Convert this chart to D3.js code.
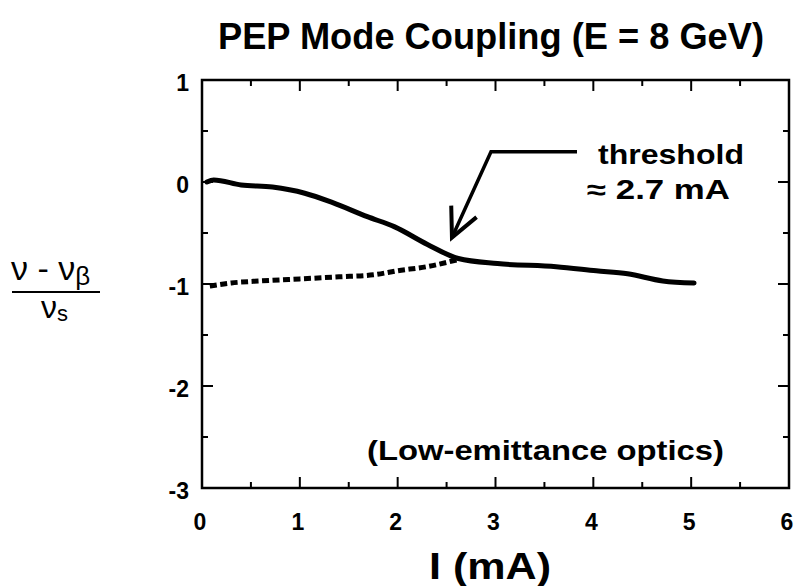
<!DOCTYPE html>
<html><head><meta charset="utf-8">
<script src="https://cdn.jsdelivr.net/npm/d3@7"></script>
<style>body{margin:0;background:#fff}svg{display:block}</style>
</head><body>
<svg id="c" width="794" height="586"></svg>
<script>
// ---- data ----
const solidX = [0.05, 0.12, 0.40, 0.72, 1.05, 1.33, 1.69, 1.97, 2.30, 2.62, 3.02, 3.62, 4.03, 4.35, 4.71, 5.03];
const solidY = [0.00, 0.02, -0.03, -0.05, -0.11, -0.20, -0.34, -0.44, -0.61, -0.75, -0.80, -0.83, -0.87, -0.90, -0.97, -0.99];
const dottedX = [0.08, 0.30, 0.60, 1.00, 1.40, 1.75, 2.00, 2.30, 2.62];
const dottedY = [-1.02, -0.99, -0.97, -0.95, -0.93, -0.91, -0.87, -0.83, -0.76];
const xTicks = [0, 1, 2, 3, 4, 5, 6];
const yTicks = [1, 0, -1, -2, -3];
const titleText = "PEP Mode Coupling (E = 8 GeV)";
const xTitle = "I (mA)";
const noteLines = ["threshold", "≈ 2.7 mA"];
const opticsNote = "(Low-emittance optics)";
const arrowPath = [[3.833, 0.296], [2.954, 0.296], [2.555, -0.545]]; // data units

const svg = d3.select("#c");
const F = "'Liberation Sans', Arial, Helvetica, sans-serif";
const L = 202, R = 789, T = 80, B = 488;
const x = d3.scaleLinear().domain([0, 6]).range([L, R]);
const y = d3.scaleLinear().domain([-3, 1]).range([B, T]);

function fitText(sel, w) {
  sel.attr("textLength", w).attr("lengthAdjust", "spacingAndGlyphs");
}

// title
svg.append("text").attr("x", 491).attr("y", 49).attr("text-anchor", "middle")
  .attr("font-family", F).attr("font-weight", "bold").attr("font-size", 37)
  .text(titleText).call(fitText, 546);

// frame
svg.append("rect").attr("x", L).attr("y", T).attr("width", R - L).attr("height", B - T)
  .attr("fill", "none").attr("stroke", "#000").attr("stroke-width", 2.5);

// ticks
const minorMajorX = d3.range(0.5, 6, 0.5);
const minorMajorY = d3.range(-2.5, 1, 0.5);
const tg = svg.append("g").attr("stroke", "#000").attr("stroke-width", 2);
minorMajorX.forEach(v => {
  const len = Number.isInteger(v) ? 11 : 6;
  tg.append("line").attr("x1", x(v)).attr("x2", x(v)).attr("y1", B).attr("y2", B - len);
  tg.append("line").attr("x1", x(v)).attr("x2", x(v)).attr("y1", T).attr("y2", T + len);
});
minorMajorY.forEach(v => {
  const len = Number.isInteger(v) ? 11 : 6;
  tg.append("line").attr("y1", y(v)).attr("y2", y(v)).attr("x1", L).attr("x2", L + len);
  tg.append("line").attr("y1", y(v)).attr("y2", y(v)).attr("x1", R).attr("x2", R - len);
});

// tick labels
svg.append("g").selectAll("text").data(xTicks).join("text")
  .attr("x", d => x(d) - 2).attr("y", 530).attr("text-anchor", "middle")
  .attr("font-family", F).attr("font-weight", "bold").attr("font-size", 23)
  .text(d => d);
svg.append("g").selectAll("text").data(yTicks).join("text")
  .attr("x", 189).attr("y", d => y(d) + 11).attr("text-anchor", "end")
  .attr("font-family", F).attr("font-weight", "bold").attr("font-size", 23)
  .text(d => d);

// x title
svg.append("text").attr("x", 490).attr("y", 579).attr("text-anchor", "middle")
  .attr("font-family", F).attr("font-weight", "bold").attr("font-size", 37)
  .text(xTitle).call(fitText, 122);

// y title (fraction)
const yt = svg.append("g").attr("font-family", F).attr("font-size", 34);
const num = yt.append("text").attr("x", 11).attr("y", 280);
num.append("tspan").text("ν - ν");
num.append("tspan").attr("font-size", 26).attr("dy", 5).text("β");
yt.append("line").attr("x1", 12).attr("x2", 100).attr("y1", 292).attr("y2", 292)
  .attr("stroke", "#000").attr("stroke-width", 2);
const den = yt.append("text").attr("x", 41).attr("y", 318).attr("font-size", 32);
den.append("tspan").text("ν");
den.append("tspan").attr("font-size", 22).attr("dy", 3).text("s");

// curves
const line = d3.line().x(d => x(d[0])).y(d => y(d[1])).curve(d3.curveMonotoneX);
svg.append("path").datum(dottedX.map((v, i) => [v, dottedY[i]]))
  .attr("d", line).attr("fill", "none").attr("stroke", "#000")
  .attr("stroke-width", 5).attr("stroke-dasharray", "7,3.5");
svg.append("path").datum(solidX.map((v, i) => [v, solidY[i]]))
  .attr("d", line).attr("fill", "none").attr("stroke", "#000")
  .attr("stroke-width", 5).attr("stroke-linejoin", "round").attr("stroke-linecap", "round");

// arrow
const ap = arrowPath.map(p => [x(p[0]), y(p[1])]);
svg.append("path").attr("d", d3.line()(ap)).attr("fill", "none").attr("stroke", "#000")
  .attr("stroke-width", 3.5);
const tip = ap[2], prev = ap[1];
const ang = Math.atan2(tip[1] - prev[1], tip[0] - prev[0]);
const hl = 32, ha = 0.45;
const b1 = [tip[0] - hl * Math.cos(ang - ha), tip[1] - hl * Math.sin(ang - ha)];
const b2 = [tip[0] - hl * Math.cos(ang + ha), tip[1] - hl * Math.sin(ang + ha)];
svg.append("path").attr("d", d3.line()([b1, tip, b2])).attr("fill", "none")
  .attr("stroke", "#000").attr("stroke-width", 4).attr("stroke-linejoin", "miter");

// annotations
svg.append("text").attr("x", 598).attr("y", 164).attr("font-family", F)
  .attr("font-weight", "bold").attr("font-size", 27).text(noteLines[0]).call(fitText, 146);
svg.append("text").attr("x", 587).attr("y", 199).attr("font-family", F)
  .attr("font-weight", "bold").attr("font-size", 27).text(noteLines[1]).call(fitText, 143);
svg.append("text").attr("x", 367).attr("y", 460).attr("font-family", F)
  .attr("font-weight", "bold").attr("font-size", 28).text(opticsNote).call(fitText, 357);
</script>
</body></html>
